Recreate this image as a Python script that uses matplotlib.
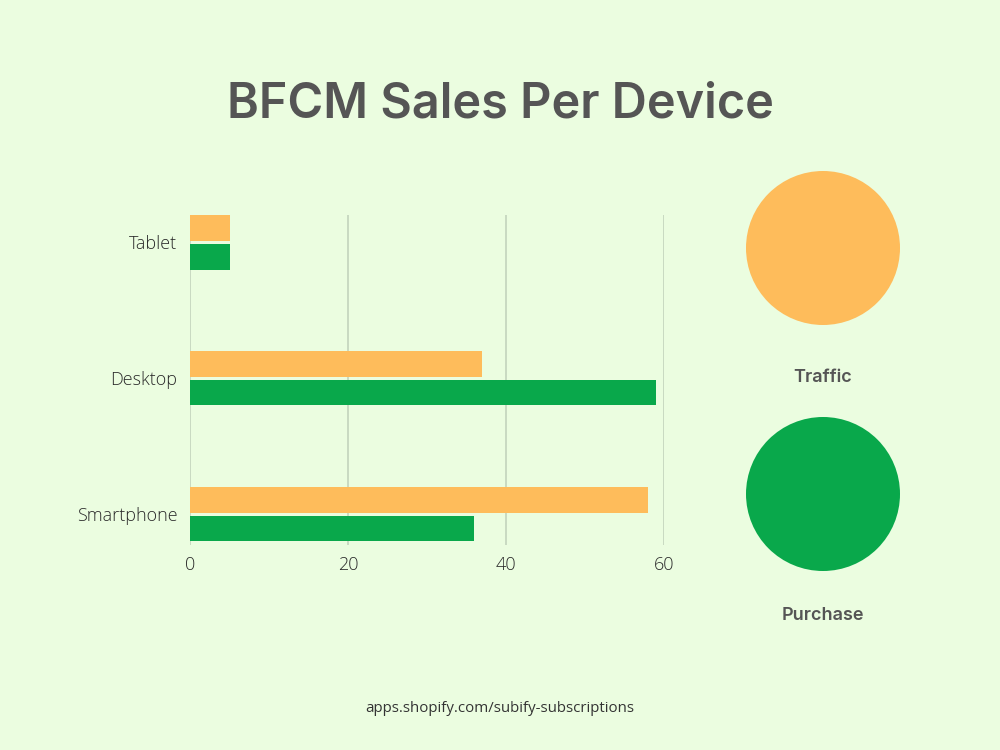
import matplotlib
matplotlib.use("Agg")
import matplotlib.pyplot as plt
from matplotlib.patches import Circle
import numpy as np

categories = ["Smartphone", "Desktop", "Tablet"]
traffic = [58, 37, 5]
purchase = [36, 59, 5]
series_names = ["Traffic", "Purchase"]
x_ticks = [0, 20, 40, 60]
title = "BFCM Sales Per Device"
footer = "apps.shopify.com/subify-subscriptions"

BG = "#ebfde0"
ORANGE = "#febc5b"
GREEN = "#09a84b"
TXT = "#555555"

fig = plt.figure(figsize=(10, 7.5), dpi=100, facecolor=BG)

# main bar axes
ax = fig.add_axes([0.190, 1 - 545 / 750, (664 - 190) / 1000, (545 - 215) / 750])
ax.set_facecolor(BG)
y = np.arange(len(categories))
h = 0.19
gap = 0.011
ax.barh(y + gap + h / 2, traffic, height=h, color=ORANGE, edgecolor=ORANGE, linewidth=0, zorder=3)
ax.barh(y - gap - h / 2, purchase, height=h, color=GREEN, edgecolor=GREEN, linewidth=0, zorder=3)
ax.set_xlim(0, 60)
ax.set_ylim(-0.228, 2.2)
ax.set_yticks(y)
ax.set_yticklabels(categories)
ax.set_xticks(x_ticks)
for s in ax.spines.values():
    s.set_visible(False)
ax.grid(axis="x", color="#c3d3bd", linewidth=1.2, zorder=0)
ax.tick_params(length=0, labelsize=13, labelcolor="#2a2a2a", pad=9)
ax.tick_params(axis="x", pad=8)
for lab in ax.get_xticklabels() + ax.get_yticklabels():
    lab.set_family("Open Sans")
    lab.set_fontweight("light")

# title
fig.text(0.5, 1 - 105 / 750, title, ha="center", va="center", fontsize=35,
         fontweight="semibold", family="Inter", color=TXT)

# legend circles
lax = fig.add_axes([0, 0, 1, 1])
lax.set_xlim(0, 1000)
lax.set_ylim(750, 0)
lax.axis("off")
centers = [248, 494]
label_y = [377, 615]
for name, col, cy, ly in zip(series_names, [ORANGE, GREEN], centers, label_y):
    lax.add_patch(Circle((823, cy), 77, color=col, linewidth=0))
    lax.text(823, ly, name, ha="center", va="center", fontsize=13,
             fontweight="semibold", family="Inter", color=TXT)

fig.text(0.5, 1 - 708 / 750, footer, ha="center", va="center", fontsize=10.8,
         family="Open Sans", color="#333333")

fig.savefig("out.png", dpi=100, facecolor=BG)
